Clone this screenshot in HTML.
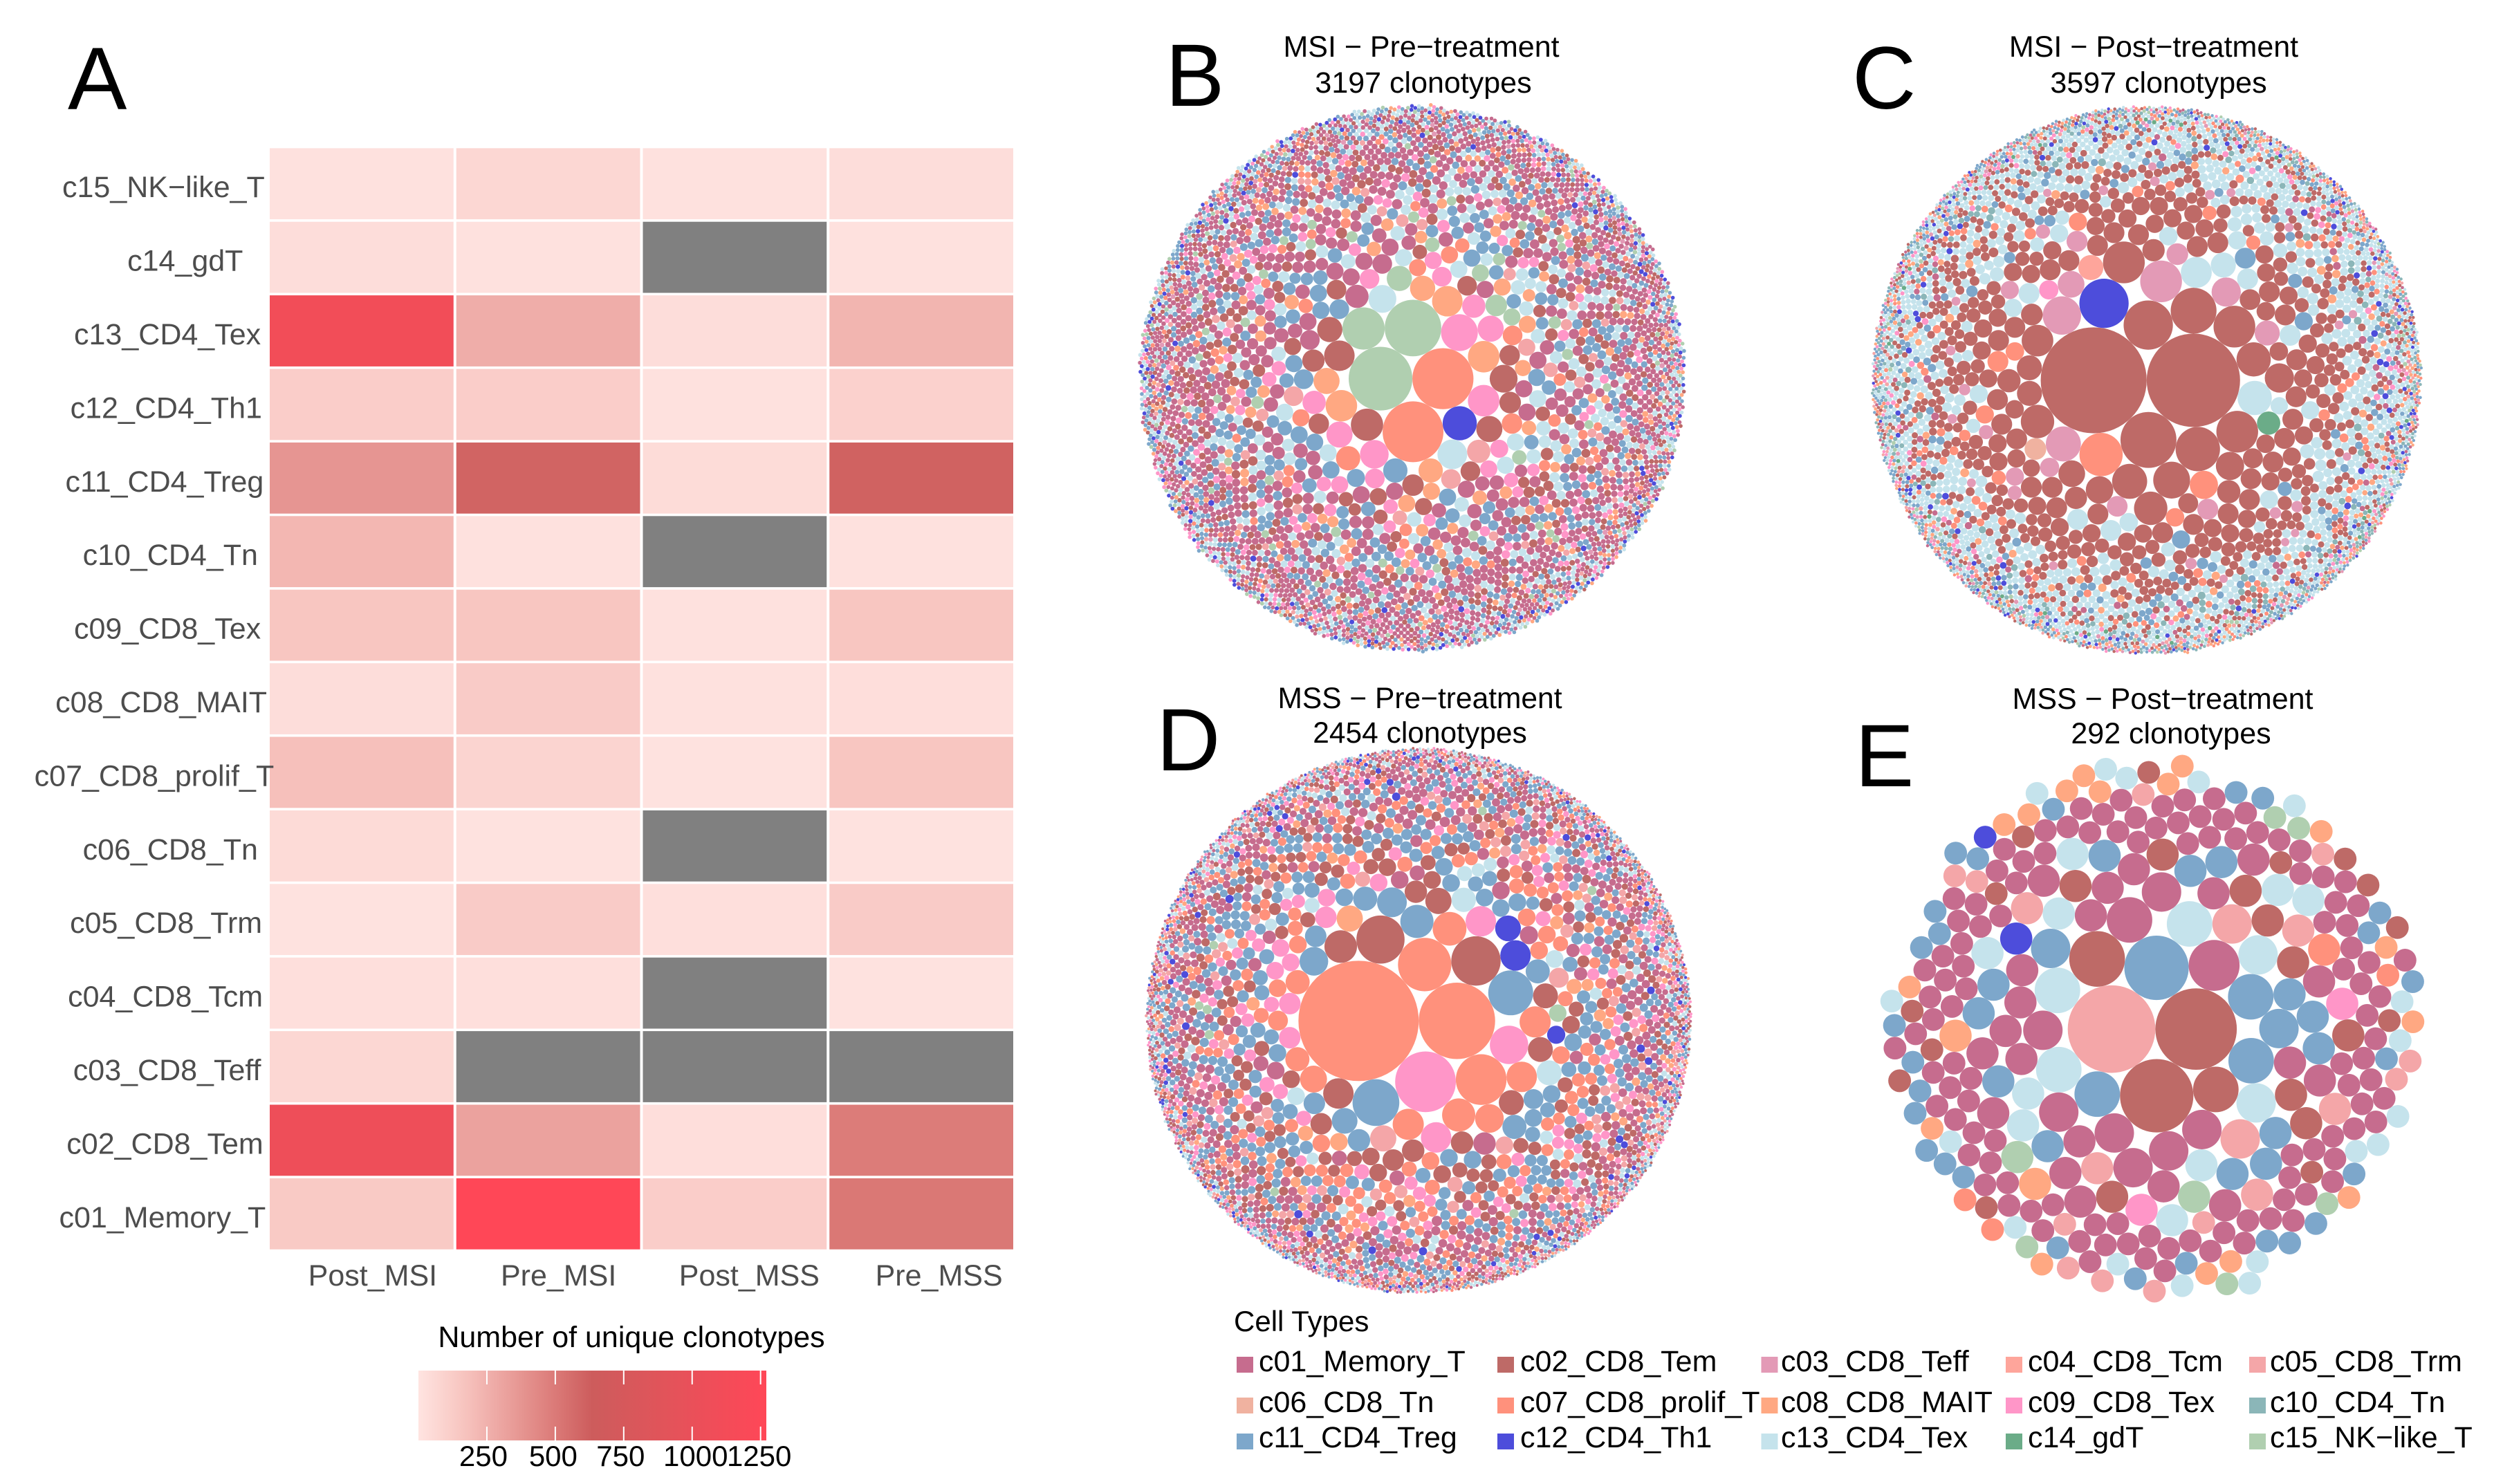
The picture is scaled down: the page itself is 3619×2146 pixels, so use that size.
<!DOCTYPE html>
<html lang="en">
<head>
<meta charset="utf-8">
<title>Clonotype heatmap and circle packs</title>
<style>
html,body{margin:0;padding:0;background:#fff}
svg{display:block}
text{font-family:"Liberation Sans",sans-serif}
</style>
</head>
<body>
<svg id="fig" xmlns="http://www.w3.org/2000/svg" width="3619" height="2146" viewBox="0 0 3619 2146">
<rect width="3619" height="2146" fill="#fff"/>
<g font-size="128" fill="#000">
<text x="98" y="158">A</text>
<text x="1685" y="153">B</text>
<text x="2678" y="157">C</text>
<text x="1672" y="1114">D</text>
<text x="2682" y="1137">E</text>
</g>
<g font-size="43" fill="#000" text-anchor="middle">
<text x="2055" y="82">MSI − Pre−treatment</text>
<text x="2058" y="134">3197 clonotypes</text>
<text x="3114" y="82">MSI − Post−treatment</text>
<text x="3121" y="134">3597 clonotypes</text>
<text x="2053" y="1024" font-size="42.5">MSS − Pre−treatment</text>
<text x="2053" y="1074" font-size="42.5">2454 clonotypes</text>
<text x="3127" y="1025">MSS − Post−treatment</text>
<text x="3139" y="1075">292 clonotypes</text>
<text x="913" y="1948">Number of unique clonotypes</text>
</g>
<text x="1784" y="1925" font-size="42" fill="#000">Cell Types</text>
<g id="heatmap"></g>
<g id="colorbar"></g>
<g id="panelB"></g>
<g id="panelC"></g>
<g id="panelD"></g>
<g id="panelE"></g>
<g id="legend"></g>
</svg>
<script>
// ---------- heatmap data ----------
const rowLabels=["c15_NK−like_T","c14_gdT","c13_CD4_Tex","c12_CD4_Th1","c11_CD4_Treg","c10_CD4_Tn","c09_CD8_Tex","c08_CD8_MAIT","c07_CD8_prolif_T","c06_CD8_Tn","c05_CD8_Trm","c04_CD8_Tcm","c03_CD8_Teff","c02_CD8_Tem","c01_Memory_T"];
const colLabels=["Post_MSI","Pre_MSI","Post_MSS","Pre_MSS"];
const postMSI=[15,35,1100,120,375,225,160,35,185,50,12,25,70,1055,140];
const preMSI=[70,15,270,120,600,15,160,130,85,12,130,25,null,320,1271];
const postMSS=[15,null,35,15,45,null,15,15,12,null,25,null,null,30,120];
const preMSS=[35,15,235,100,610,15,160,30,160,12,130,12,null,490,510];
const colorTicks=[250,500,750,1000,1250];
const colorMax=1271;

// ---------- legend data ----------
const legendLabels=["c01_Memory_T","c02_CD8_Tem","c03_CD8_Teff","c04_CD8_Tcm","c05_CD8_Trm","c06_CD8_Tn","c07_CD8_prolif_T","c08_CD8_MAIT","c09_CD8_Tex","c10_CD4_Tn","c11_CD4_Treg","c12_CD4_Th1","c13_CD4_Tex","c14_gdT","c15_NK−like_T"];
const legendColors=["#C66C8E","#BE6A67","#E39AB6","#FEA59B","#F4A6A8","#F0B2A0","#FF917C","#FFA882","#FF96C8","#8BB6B8","#7DA7CB","#4D4DDB","#C5E3EC","#6BAC88","#B0CFB0"];

// ---------- circle-pack data: sizes (relative clonotype counts) and cell type codes a=c01 ... o=c15 ----------
const panelBSizes=[261,240,238,206,115,87,75,67,64,64,64,60,60,57,53,50,50,44,44,44,44,41,41,41,38,38,38,35,35,35,35,32,30,30,30,27,27,27,25,25,25,25,25,25,25,25,25,25,25,25,25,21,21,19,17];
const panelBTypes="oggooilbhihbhmimbhbiibhokhgeiaibobbbgbgkaiibebbiakekighhh";
const panelBTierSizes=[19,13.5,10.1,8.16,6.8,5.9,5.22,4.75,4.29,3.86,3.45,3.06,2.7,2.36,2.04,1.75,1.52,1.35,1.23,1.15,1.04,0.96];
const panelBTierCounts=[43,57,73,87,102,116,129,141,154,169,184,202,221,243,267,295,322,348,371,389,416,250];
const panelBTierMixes=["ammkkaiahbkmaoghakiaekabm","akmabkaiahmkabgaokmaibaehkamb","kaabmkimabaohkgamkiaebkamh","aakabmmkaaibakhaamkabaegakmaabiakaoambkaha","aakabamkaaibakhaamkabaegakmaabiakaoambkaha","aabakamaakibaamhakaeabmkalaiabakamabhgaka","aabmakaamkbaiaakmhabaelakamgbaakimaoabcka","amkabmakhaibmakemlaakbmgaaimkohbaaklm","mkalikmhoakmibmlkahmkoiakml"];

const panelCSizes=[786,610,219,170,170,147,138,131,122,122,122,122,103,95,86,86,82,82,78,78,70,67,60,60,56,56,53,50,50,44,44,44,44,44,38,38,38,35,35,33,33,33,30,30,28,28,26,26,24,24,24,24,24,24,24,24,21,21];
const panelCTypes="bbbblbbgbcbbcbcbbmbbbmcbbgbbcbbdmcnbbbbcfbbcbbcimggbbmbbbm";
const panelCTierSizes=[30.6,23.2,14.1,9.2,6.6,5.56,4.9,4.29,3.72,3.19,2.7,2.36,1.99,1.65,1.39,1.19,1,0.86,0.73,0.65];
const panelCTierCounts=[37,48,69,93,116,133,147,164,182,202,226,248,275,309,343,377,417,454,499,300];
const panelCTierMixes=["bbbmbbbbcbbmbbgbbbbmbkbb","mbbbmbkmbbmbgmbbcmbmb","mbmbbmkmbbcmbgmbmhbmmb","mmbmkbmmjbmamkgmbmmhbmmkmbm","mmbmgkmmjbmamlbgmmihmkbmmbj","mbmbmkmjmbkmgmimbmlmhmkbmjmamb","mbkmjmimhkmlmbemcjmkomgmbin","mkjmbhmigkmjelmbkmcmhkjogm","mkjibhkigmkjelabkmcahkjogk"];

const panelDSizes=[1091,440,278,215,194,184,175,165,152,111,86,83,83,80,73,73,70,70,70,70,70,67,62,62,55,52,52,52,50,50,47,47,47,47,45,44,44,44,44,44,38,38,38,38,38,35,35,35,35,35,35,35,30,30,30,25,25,23,23];
const panelDTypes="ggiggbbkkiggkbggbligikgkgbehklbbmbmkkggkbbbakbkkiiibegklako";
const panelDTierSizes=[23.6,17.2,13.3,11,9.4,8.16,7.2,6.4,5.7,5.2,4.44,3.72,3.06,2.58,2.04,1.56,1.23,0.93,0.73,0.56];
const panelDTierCounts=[38,50,64,76,88,101,113,126,139,152,170,192,218,244,280,327,376,438,499,300];
const panelDTierMixes=["gkbikgkbamgikbgkhkbegaikb","gkbikgkbamgikbgkhkbegaikbgk","kgabikgkbaiegkbhkgaikbmgke","kaabgkaikbaegkahkamibkaogkabe","akabkaigaekbahkaamgkbaiaekalkab","akabkaigaekbahkaamgkbaiaekalkab","ambkaeigakmhbalkaimgkeabkmi","akmbgiekamkhbaielkagmkeabim","kaimbkeamgikbalmkheaimk"];

const panelESizes=[14.8,12.8,10.4,8,6,5,4,3,2,1,1];
const panelETypes=["e","b","b","k","b","a","bkkkmmma","aakaammaaakee","aaaabkabbmmmaaakkkeaaakkkkomlbbbkeeaakamabiikbeaakkmmaaaboeghhmm","aaaaaaaaaaaaaabaaaaaaaaaeaaaaaaaabaaaaaaaaaaaaaabaaaaaaaaaaaeaaaaaaaaaaaaaaabaaaaaaaabaaaaaaaaeaaaaaaaaabaaaaaaaaaeaa","mmkkekkgoohkkkmmekkbhhhkkommbekhokhhmhhkkkkmkbbklmehkkkaaekmbhmmbhmmehggokmmhkkmehbh"];

// ---------- helpers ----------
const NS="http://www.w3.org/2000/svg";
function make(tag,attrs,parent){const el=document.createElementNS(NS,tag);for(const k in attrs)el.setAttribute(k,attrs[k]);parent.appendChild(el);return el;}
function lerp(a,b,t){return a.map((v,i)=>Math.round(v+(b[i]-v)*t));}
function colorScale(v){
  const ramp=[[255,228,225],[248,198,193],[235,162,158],[221,127,124],[205,92,92],[255,71,87]];
  const half=colorMax/2;
  if(v>half)return "rgb("+lerp(ramp[4],ramp[5],(v-half)/half).join(",")+")";
  const p=v/half*4,i=Math.min(3,Math.floor(p));
  return "rgb("+lerp(ramp[i],ramp[i+1],p-i).join(",")+")";
}

// ---------- heatmap ----------
const heatmapG=document.getElementById("heatmap");
const colStep=269.75,rowStep=106.4,tileW=265.75,tileH=102.8,heatLeft=390,heatTop=214.3;
function xBand(i){return heatLeft+i*colStep;}
function yBand(j){return heatTop+j*rowStep;}
const heatColumns=[postMSI,preMSI,postMSS,preMSS];
heatColumns.forEach(function(col,i){
  col.forEach(function(v,j){
    const tile=make("rect",{x:xBand(i),y:yBand(j),width:tileW,height:tileH,fill:v===null?"#808080":colorScale(v)},heatmapG);
    
    
  });
});
rowLabels.forEach(function(label,j){
  const t=make("text",{y:yBand(j)+tileH/2+19.5,"font-size":43,fill:"#4D4D4D"},heatmapG);
  t.textContent=label;
  t.setAttribute('x',309.6-0.75*t.getComputedTextLength());
  
  
});
const colLabelNudge=[16,15,21,25.5];
colLabels.forEach(function(label,i){
  const t=make("text",{x:xBand(i)+tileW/2+colLabelNudge[i],y:1859,"font-size":43,fill:"#4D4D4D","text-anchor":"middle"},heatmapG);
  t.textContent=label;
  
  
});

// ---------- colorbar ----------
const colorbarG=document.getElementById("colorbar");
const cbLeft=605,cbWidth=503,cbTop=1982,cbHeight=101;
function cbX(v){return cbLeft+v/colorMax*cbWidth;}
const defs=make("defs",{},colorbarG);
const grad=make("linearGradient",{id:"cbGrad",x1:0,x2:1,y1:0,y2:0},defs);
for(let s=0;s<=20;s++){make("stop",{offset:s/20,"stop-color":colorScale(s/20*colorMax)},grad);}
const cbRect=make("rect",{x:cbLeft,y:cbTop,width:cbWidth,height:cbHeight,fill:"url(#cbGrad)"},colorbarG);


const cbLabelNudge=[-5,-3,-4.5,5,-2];
colorTicks.forEach(function(v,i){
  const x=cbX(v);
  const t1=make("rect",{x:x-1,y:cbTop,width:2,height:20,fill:"#fff"},colorbarG);
  
  
  const t2=make("rect",{x:x-1,y:cbTop+cbHeight-20,width:2,height:20,fill:"#fff"},colorbarG);
  
  
  const lab=make("text",{x:x+cbLabelNudge[i],y:2120,"font-size":42,fill:"#000","text-anchor":"middle"},colorbarG);
  lab.textContent=String(v);
  
  
});

// ---------- progressive circle packing ----------
function place(b,a,c){
  const dx=b.x-a.x,dy=b.y-a.y,d2=dx*dx+dy*dy;let x,y,a2,b2;
  if(d2){
    a2=a.r+c.r;a2*=a2;b2=b.r+c.r;b2*=b2;
    if(a2>b2){x=(d2+b2-a2)/(2*d2);y=Math.sqrt(Math.max(0,b2/d2-x*x));c.x=b.x-x*dx-y*dy;c.y=b.y-x*dy+y*dx;}
    else{x=(d2+a2-b2)/(2*d2);y=Math.sqrt(Math.max(0,a2/d2-x*x));c.x=a.x+x*dx-y*dy;c.y=a.y+x*dy+y*dx;}
  }else{c.x=a.x+c.r;c.y=a.y;}
}
function hit(a,b){const dr=a.r+b.r-1e-6,dx=b.x-a.x,dy=b.y-a.y;return dr>0&&dr*dr>dx*dx+dy*dy;}
function score(n){const a=n._,b=n.next._,ab=a.r+b.r,dx=(a.x*b.r+b.x*a.r)/ab,dy=(a.y*b.r+b.y*a.r)/ab;return dx*dx+dy*dy;}
function Node(c){this._=c;this.next=null;this.previous=null;}
function packCircles(cs){
  const n=cs.length;let a=cs[0],b=cs[1],c;
  a.x=-a.r;a.y=0;b.x=b.r;b.y=0;
  c=cs[2];place(b,a,c);
  a=new Node(a);b=new Node(b);c=new Node(c);
  a.next=c.previous=b;b.next=a.previous=c;c.next=b.previous=a;
  pack:for(let i=3;i<n;++i){
    c=cs[i];place(a._,b._,c);c=new Node(c);
    let j=b.next,k=a.previous,sj=b._.r,sk=a._.r;
    do{
      if(sj<=sk){
        if(hit(j._,c._)){b=j;a.next=b;b.previous=a;--i;continue pack;}
        sj+=j._.r;j=j.next;
      }else{
        if(hit(k._,c._)){a=k;a.next=b;b.previous=a;--i;continue pack;}
        sk+=k._.r;k=k.previous;
      }
    }while(j!==k.next);
    c.previous=a;c.next=b;a.next=b.previous=b=c;
    let aa=score(a);
    while((c=c.next)!==b){const ca=score(c);if(ca<aa){a=c;aa=ca;}}
    b=a.next;
  }
}
function drawPack(groupId,sizes,types,tierSizes,tierCounts,tierMixes,cx,cy,R){
  const g=document.getElementById(groupId),cs=[];
  sizes.forEach(function(v,i){cs.push({v:v,t:types[i]});});
  tierSizes.forEach(function(v,i){
    const mix=tierMixes[Math.floor(i*tierMixes.length/tierSizes.length)];
    for(let q=0;q<tierCounts[i];q++){cs.push({v:v,t:mix[q%mix.length]});}
  });
  cs.forEach(function(c){c.r=Math.sqrt(c.v);});
  packCircles(cs);
  let x0=Infinity,x1=-Infinity,y0=Infinity,y1=-Infinity;
  cs.forEach(function(c){x0=Math.min(x0,c.x-c.r);x1=Math.max(x1,c.x+c.r);y0=Math.min(y0,c.y-c.r);y1=Math.max(y1,c.y+c.r);});
  const k=R/Math.max((x1-x0)/2,(y1-y0)/2),mx=(x0+x1)/2,my=(y0+y1)/2;
  function xs(x){return cx+(x-mx)*k;}
  function ys(y){return cy+(y-my)*k;}
  cs.forEach(function(c){
    const el=make("circle",{cx:xs(c.x).toFixed(2),cy:ys(c.y).toFixed(2),r:(c.r*k).toFixed(2),fill:legendColors[c.t.charCodeAt(0)-97]},g);
    
    
  });
}
drawPack("panelB",panelBSizes,panelBTypes,panelBTierSizes,panelBTierCounts,panelBTierMixes,2041.5,547,398);
drawPack("panelC",panelCSizes,panelCTypes,panelCTierSizes,panelCTierCounts,panelCTierMixes,3104,549.5,399);
drawPack("panelD",panelDSizes,panelDTypes,panelDTierSizes,panelDTierCounts,panelDTierMixes,2051,1475.5,396);
const panelEFlatSizes=[],panelEFlatTypes=[];
panelETypes.forEach(function(str,i){for(const ch of str){panelEFlatSizes.push(panelESizes[i]);panelEFlatTypes.push(ch);}});
drawPack("panelE",panelEFlatSizes,panelEFlatTypes,[],[],[],3112,1487.5,396);

// ---------- legend ----------
const legendG=document.getElementById("legend");
const legendSwatchX=[1788,2165,2546.5,2900,3252],legendTextX=[1820,2198,2575,2932,3282];
const legendSwatchY=[1962,2021,2073],legendBaseY=[1983,2042,2093];
legendLabels.forEach(function(label,i){
  const col=i%5,row=Math.floor(i/5);
  const sw=make("rect",{x:legendSwatchX[col],y:legendSwatchY[row],width:24,height:23,fill:legendColors[i]},legendG);
  
  
  const t=make("text",{x:legendTextX[col],y:legendBaseY[row],"font-size":43,fill:"#000"},legendG);
  t.textContent=label;
  
  
});
</script>
</body>
</html>
